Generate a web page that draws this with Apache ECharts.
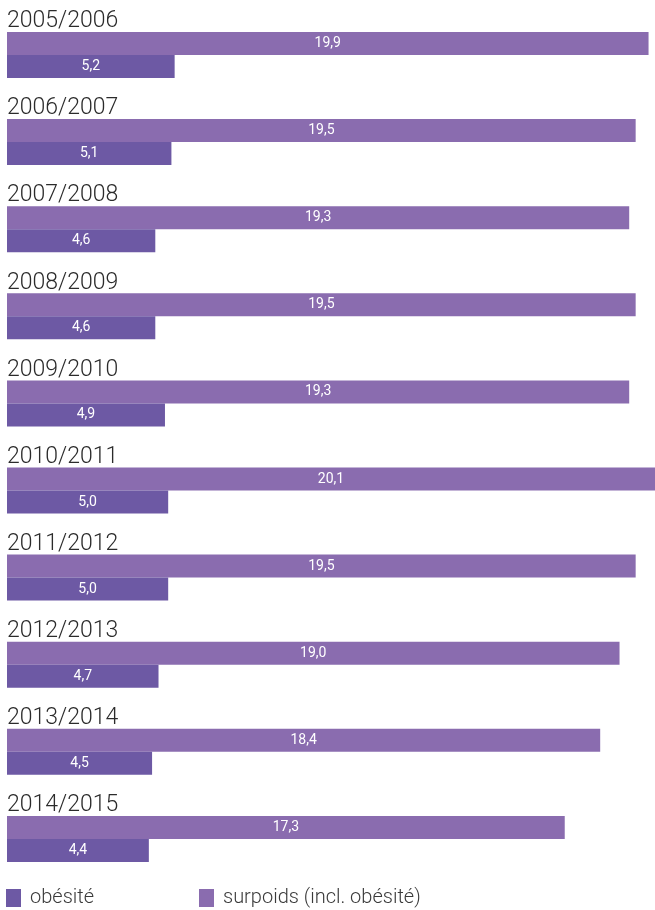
<!DOCTYPE html>
<html>
<head>
<meta charset="utf-8">
<script src="https://cdn.jsdelivr.net/npm/echarts@6/dist/echarts.min.js"></script>
<style>
  html, body { margin: 0; padding: 0; background: #ffffff; }
  #chart { width: 655px; height: 910px; }
</style>
</head>
<body>
<div id="chart"></div>
<script>
// School years shown, top to bottom
const years = ['2005/2006', '2006/2007', '2007/2008', '2008/2009', '2009/2010',
               '2010/2011', '2011/2012', '2012/2013', '2013/2014', '2014/2015'];
// Share of overweight children (obesity included), in %
const surpoids = [19.9, 19.5, 19.3, 19.5, 19.3, 20.1, 19.5, 19.0, 18.4, 17.3];
// Share of obese children, in %
const obesite = [5.2, 5.1, 4.6, 4.6, 4.9, 5.0, 5.0, 4.7, 4.5, 4.4];

const FONT = 'Roboto, "Noto Sans", sans-serif';
const COL_SURPOIDS = '#8a6caf';
const COL_OBESITE = '#6d59a4';

const fmt = v => v.toFixed(1).replace('.', ',');

const chart = echarts.init(document.getElementById('chart'), null, { renderer: 'canvas' });

const barLabel = {
  show: true,
  position: 'inside',
  color: '#ffffff',
  fontFamily: FONT,
  fontSize: 14,
  fontWeight: 400,
  formatter: p => fmt(p.value)
};

const legendText = {
  color: '#3a3a3a', fontFamily: FONT, fontSize: 20, fontWeight: 300,
  lineHeight: 18, padding: [0, 0, 0, 4]
};

chart.setOption({
  animation: false,
  backgroundColor: '#ffffff',
  grid: { left: 7, width: 656, top: 11.4, height: 871.1, containLabel: false },
  xAxis: {
    type: 'value', min: 0, max: 20.1,
    show: false
  },
  yAxis: {
    type: 'category',
    data: years,
    inverse: true,
    axisLine: { show: false },
    axisTick: { show: false },
    splitLine: { show: false },
    axisLabel: {
      inside: true,
      margin: 0,
      align: 'left',
      verticalAlign: 'bottom',
      padding: [0, 0, 22, 0],
      color: '#2b2b2b',
      fontFamily: FONT,
      fontSize: 23,
      fontWeight: 300
    },
    z: 10
  },
  legend: [
    {
      data: ['obésité'],
      left: 6, top: 888, padding: 0,
      itemWidth: 15, itemHeight: 18, itemGap: 0,
      icon: 'rect',
      textStyle: legendText
    },
    {
      data: ['surpoids (incl. obésité)'],
      left: 199, top: 888, padding: 0,
      itemWidth: 15, itemHeight: 18, itemGap: 0,
      icon: 'rect',
      textStyle: legendText
    }
  ],
  series: [
    {
      name: 'surpoids (incl. obésité)',
      type: 'bar',
      data: surpoids,
      barWidth: 23,
      barGap: '0%',
      itemStyle: { color: COL_SURPOIDS },
      label: barLabel
    },
    {
      name: 'obésité',
      type: 'bar',
      data: obesite,
      barWidth: 23,
      barGap: '0%',
      itemStyle: { color: COL_OBESITE },
      label: barLabel
    }
  ]
});
</script>
</body>
</html>
